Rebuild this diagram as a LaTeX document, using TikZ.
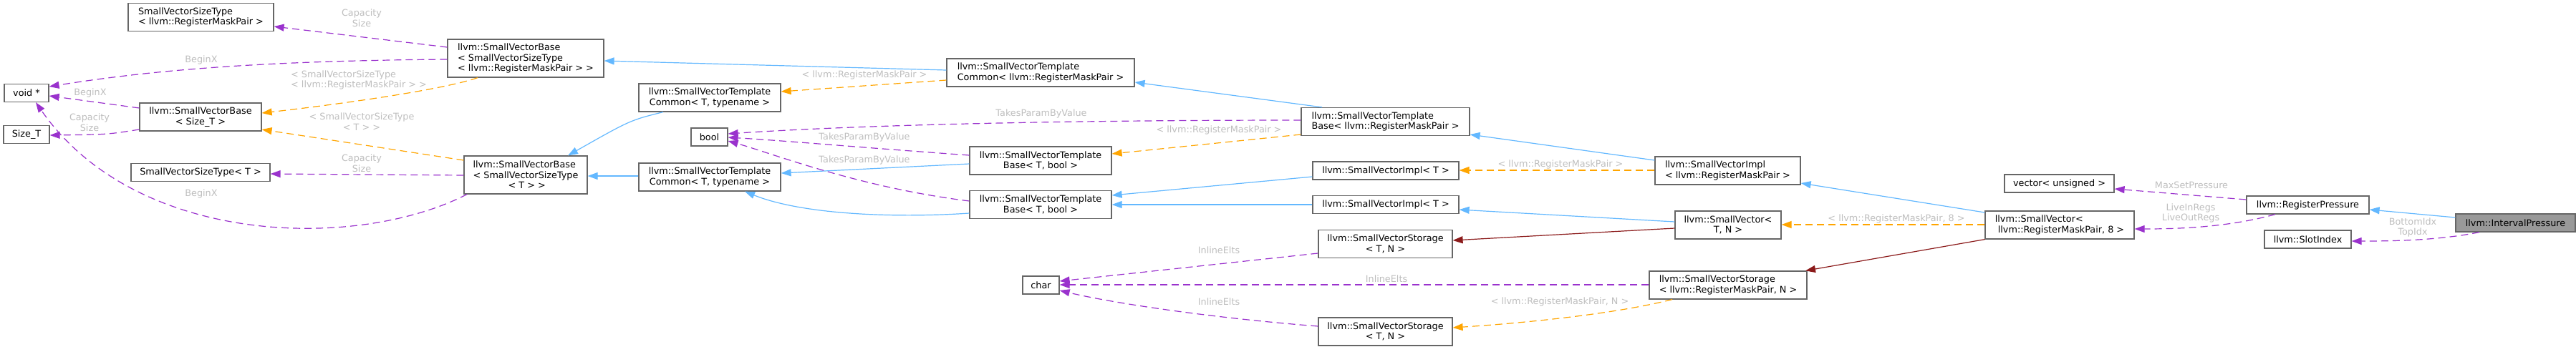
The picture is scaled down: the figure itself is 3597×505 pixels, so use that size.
\documentclass[tikz,border=0pt]{standalone}
\usepackage{fontspec}
\setmainfont{DejaVu Sans}
\usetikzlibrary{arrows.meta}

\definecolor{pubblue}{HTML}{63B8FF}
\definecolor{usepurple}{HTML}{9A32CD}
\definecolor{tplorange}{HTML}{FFA500}
\definecolor{protred}{HTML}{8B1A1A}
\definecolor{boxgrey}{HTML}{666666}
\definecolor{rootgrey}{HTML}{999999}
\definecolor{lblgrey}{HTML}{BEBEBE}

\tikzset{
  cls/.style={draw=boxgrey, fill=white, line width=0.6pt, inner sep=1pt,
    minimum height=12.5pt, font=\fontsize{6.4pt}{7.25pt}\selectfont},
  two/.style={minimum height=19.5pt},
  three/.style={minimum height=26.5pt},
  root/.style={cls, fill=rootgrey},
  lbl/.style={text=lblgrey, inner sep=0pt, align=center,
    font=\fontsize{6.4pt}{7.25pt}\selectfont},
  edge/.style={line width=0.6pt, -{Triangle[length=7pt,width=5pt]}},
  pub/.style={edge, draw=pubblue},
  prot/.style={edge, draw=protred},
  use/.style={edge, draw=usepurple, dash pattern=on 5pt off 3pt},
  tpl/.style={edge, draw=tplorange, dash pattern=on 5pt off 3pt}
}

\begin{document}
\begin{tikzpicture}[x=0.5pt, y=-0.5pt]
\useasboundingbox (0,0) rectangle (3597,505);

% classes
\node[cls, two, align=left, minimum width=101.5pt](svstRMP) at (280.5,24) {SmallVectorSizeType\\< llvm::RegisterMaskPair >};
\node[cls, minimum width=31pt](voidp) at (37,130) {void *};
\node[cls, minimum width=32pt](sizet) at (37,188) {Size\_T};
\node[cls, two, align=center, minimum width=85pt](svbSize) at (280,163.5) {llvm::SmallVectorBase\\< Size\_T >};
\node[cls, minimum width=97pt](svstT) at (280,241) {SmallVectorSizeType< T >};
\node[cls, three, align=left, minimum width=109pt](svbRMP) at (734,81.5) {llvm::SmallVectorBase\\< SmallVectorSizeType\\< llvm::RegisterMaskPair > >};
\node[cls, three, align=left, minimum width=86pt](svbT) at (734,244.5) {llvm::SmallVectorBase\\< SmallVectorSizeType\\\hspace*{24.5pt}< T > >};
\node[cls, two, align=center, minimum width=99pt](svtcTu) at (991,136.5) {llvm::SmallVectorTemplate\\Common< T, typename >};
\node[cls, minimum width=25.5pt](boolt) at (990.5,191.5) {bool};
\node[cls, two, align=center, minimum width=99pt](svtcTl) at (991,247.5) {llvm::SmallVectorTemplate\\Common< T, typename >};
\node[cls, two, align=left, minimum width=131pt](svtcRMP) at (1453,101.5) {llvm::SmallVectorTemplate\\Common< llvm::RegisterMaskPair >};
\node[cls, two, align=center, minimum width=99pt](svtbTu) at (1453,224.5) {llvm::SmallVectorTemplate\\Base< T, bool >};
\node[cls, two, align=center, minimum width=99pt](svtbTl) at (1453,286) {llvm::SmallVectorTemplate\\Base< T, bool >};
\node[cls, minimum width=25.5pt](chart) at (1453.5,398.5) {char};
\node[cls, two, align=left, minimum width=117.5pt](svtbRMP) at (1934.5,170) {llvm::SmallVectorTemplate\\Base< llvm::RegisterMaskPair >};
\node[cls, minimum width=102pt](sviTu) at (1935,238.5) {llvm::SmallVectorImpl< T >};
\node[cls, minimum width=102pt](sviTl) at (1935,286) {llvm::SmallVectorImpl< T >};
\node[cls, two, align=center, minimum width=93.5pt](svsTu) at (1934.5,341) {llvm::SmallVectorStorage\\< T, N >};
\node[cls, two, align=center, minimum width=93.5pt](svsTl) at (1934.5,463.5) {llvm::SmallVectorStorage\\< T, N >};
\node[cls, two, align=left, minimum width=101.5pt](sviRMP) at (2412.5,238.5) {llvm::SmallVectorImpl\\< llvm::RegisterMaskPair >};
\node[cls, two, align=center, minimum width=74pt](svTN) at (2413,314.5) {llvm::SmallVector<\\T, N >};
\node[cls, two, align=left, minimum width=110pt](svsRMP) at (2413,398.5) {llvm::SmallVectorStorage\\< llvm::RegisterMaskPair, N >};
\node[cls, minimum width=76.5pt](vecu) at (2875.5,256.5) {vector< unsigned >};
\node[cls, two, align=left, minimum width=104pt](svRMP8) at (2876,314.5) {llvm::SmallVector<\\\hspace*{2pt}llvm::RegisterMaskPair, 8 >};
\node[cls, minimum width=85.5pt](regp) at (3222.5,286.5) {llvm::RegisterPressure};
\node[cls, minimum width=60.5pt](sloti) at (3222.5,334.5) {llvm::SlotIndex};
\node[root, minimum width=83.5pt](ivp) at (3512.5,311.5) {llvm::IntervalPressure};

% straight connectors, west side to east side
\foreach \from/\to/\ya/\yb in {svtcRMP/svbRMP/98/85, svtcTl/svbT/246/246, svtbTu/svtcTl/229/242,
    sviRMP/svtbRMP/224/188, sviTu/svtbTl/247/273, sviTl/svtbTl/286/286, svTN/sviTl/310/293,
    svRMP8/sviRMP/297/256, ivp/regp/304/293}
    \draw[pub] (\from.west |- 0,\ya) -- (\to.east |- 0,\yb);
\foreach \from/\to/\ya/\yb in {svtcRMP/svtcTu/112/128, svbT/svbSize/224/181, svtbRMP/svtbTu/188/215,
    sviRMP/sviTu/238/238, svRMP8/svTN/314/314}
    \draw[tpl] (\from.west |- 0,\ya) -- (\to.east |- 0,\yb);
\foreach \from/\to/\ya/\yb in {svbRMP/svstRMP/66/37, svbSize/voidp/151/134, svbT/svstT/245/243,
    svsTu/chart/354/393, svsRMP/chart/398/398, regp/vecu/279/264}
    \draw[use] (\from.west |- 0,\ya) -- (\to.east |- 0,\yb);
\draw[prot] (svTN.west |- 0,319) -- (svsTu.east |- 0,336);

% bent connectors
\draw[use] (svbRMP.west |- 0,83) .. controls (350,85) and (200,100) .. (voidp.east |- 0,121);
\draw[use] (svbSize.west |- 0,181) .. controls (150,188) .. (sizet.east |- 0,189);
\draw[tpl] (svbRMP.south -| 667,0) .. controls (620,125) and (480,145) .. (svbSize.east |- 0,158);
\draw[use] (svbT.south -| 652,0) .. controls (500,350) and (190,345) .. (voidp.south -| 50,0);
\draw[pub] (svtcTu.south -| 926,0) .. controls (880,168) .. (svbT.north -| 793,0);
\draw[use] (svtbRMP.west |- 0,168) .. controls (1400,168) and (1150,178) .. (boolt.east |- 0,187);
\draw[use] (svtbTu.west |- 0,217) .. controls (1200,206) and (1100,197) .. (boolt.east |- 0,192);
\draw[use] (svtbTl.west |- 0,281) .. controls (1200,262) and (1080,215) .. (boolt.east |- 0,197);
\draw[pub] (svtbTl.west |- 0,298) .. controls (1250,305) and (1120,300) .. (svtcTl.south -| 1040,0);
\draw[pub] (svtbRMP.north -| 1846,0) -- (svtcRMP.east |- 0,115);
\draw[use] (svsTl.west |- 0,456) .. controls (1700,445) and (1560,425) .. (chart.east |- 0,406);
\draw[tpl] (svsRMP.south -| 2335,0) .. controls (2250,440) and (2120,452) .. (svsTl.east |- 0,458);
\draw[prot] (svRMP8.south west) -- (svsRMP.north -| 2521,0);
\draw[use] (regp.south -| 3177,0) .. controls (3110,318) and (3040,320) .. (svRMP8.east |- 0,320);
\draw[use] (ivp.south -| 3462,0) .. controls (3400,337) and (3330,337) .. (sloti.east |- 0,337);

% edge labels
\node[lbl](lCS1) at (505,25) {Capacity\\Size};
\node[lbl](lBX1) at (281,84) {BeginX};
\node[lbl, align=left](lSST1) at (501,112) {< SmallVectorSizeType\\< llvm::RegisterMaskPair > >};
\node[lbl](lBX2) at (126,130) {BeginX};
\node[lbl](lCS2) at (125,171) {Capacity\\Size};
\node[lbl](lSST2) at (505,170) {< SmallVectorSizeType\\< T > >};
\node[lbl](lCS3) at (505,228) {Capacity\\Size};
\node[lbl](lBX3) at (281,271) {BeginX};
\node[lbl](lRMP1) at (1207,105) {< llvm::RegisterMaskPair >};
\node[lbl](lTP1) at (1454,159) {TakesParamByValue};
\node[lbl](lTP2) at (1207,192) {TakesParamByValue};
\node[lbl](lTP3) at (1207,224) {TakesParamByValue};
\node[lbl](lRMP2) at (1702,182) {< llvm::RegisterMaskPair >};
\node[lbl](lRMP3) at (2179,230) {< llvm::RegisterMaskPair >};
\node[lbl](lIE1) at (1702,350) {InlineElts};
\node[lbl](lIE2) at (1936,390) {InlineElts};
\node[lbl](lIE3) at (1702,422) {InlineElts};
\node[lbl](lRMPN) at (2178,422) {< llvm::RegisterMaskPair, N >};
\node[lbl](lRMP8) at (2648,306) {< llvm::RegisterMaskPair, 8 >};
\node[lbl](lMSP) at (3060,259) {MaxSetPressure};
\node[lbl](lLR) at (3059,298) {LiveInRegs\\LiveOutRegs};
\node[lbl](lIdx) at (3369,318) {BottomIdx\\TopIdx};

\end{tikzpicture}
\end{document}
